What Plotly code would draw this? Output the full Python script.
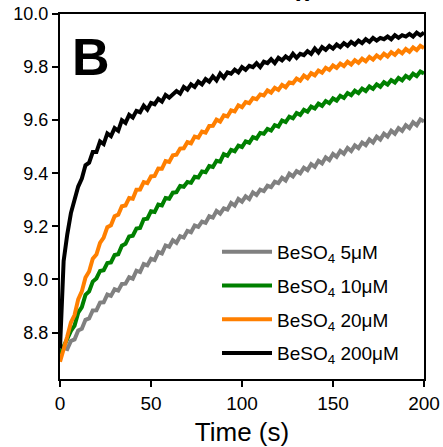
import plotly.graph_objects as go

time_s = list(range(0, 201, 2))

beso4_200uM = [
    8.74, 9.07, 9.17, 9.25, 9.30, 9.35, 9.38, 9.43, 9.44, 9.48,
    9.48, 9.52, 9.51, 9.55, 9.54, 9.57, 9.56, 9.60, 9.59, 9.62,
    9.61, 9.635, 9.63, 9.655, 9.64, 9.665, 9.66, 9.68, 9.67, 9.695,
    9.685, 9.70, 9.71, 9.70, 9.725, 9.715, 9.735, 9.725, 9.745, 9.735,
    9.755, 9.745, 9.765, 9.75, 9.775, 9.76, 9.78, 9.775, 9.79, 9.78,
    9.80, 9.79, 9.805, 9.80, 9.815, 9.80, 9.82, 9.815, 9.83, 9.815,
    9.835, 9.825, 9.84, 9.83, 9.85, 9.835, 9.85, 9.845, 9.86, 9.85,
    9.87, 9.855, 9.875, 9.865, 9.88, 9.87, 9.885, 9.875, 9.89, 9.88,
    9.895, 9.885, 9.90, 9.89, 9.905, 9.895, 9.91, 9.90, 9.91, 9.905,
    9.915, 9.905, 9.92, 9.91, 9.92, 9.915, 9.925, 9.915, 9.93, 9.92,
    9.93,
]

beso4_20uM = [
    8.69, 8.745, 8.785, 8.838, 8.866, 8.925, 8.955, 9.007, 9.03, 9.078,
    9.094, 9.138, 9.158, 9.197, 9.204, 9.238, 9.244, 9.276, 9.279, 9.307,
    9.304, 9.338, 9.339, 9.367, 9.363, 9.388, 9.39, 9.418, 9.417, 9.446,
    9.443, 9.468, 9.47, 9.493, 9.494, 9.517, 9.513, 9.538, 9.534, 9.557,
    9.553, 9.578, 9.579, 9.602, 9.595, 9.618, 9.614, 9.637, 9.633, 9.656,
    9.649, 9.668, 9.664, 9.683, 9.679, 9.697, 9.693, 9.712, 9.704, 9.722,
    9.714, 9.733, 9.724, 9.742, 9.739, 9.757, 9.749, 9.768, 9.758, 9.777,
    9.769, 9.787, 9.779, 9.797, 9.789, 9.806, 9.797, 9.813, 9.804, 9.82,
    9.81, 9.826, 9.816, 9.832, 9.822, 9.838, 9.828, 9.844, 9.834, 9.85,
    9.84, 9.856, 9.846, 9.862, 9.852, 9.868, 9.858, 9.874, 9.864, 9.88,
    9.872,
]

beso4_10uM = [
    8.72, 8.752, 8.776, 8.806, 8.826, 8.875, 8.896, 8.942, 8.955, 8.992,
    9.004, 9.032, 9.035, 9.062, 9.064, 9.092, 9.095, 9.127, 9.134, 9.162,
    9.165, 9.192, 9.194, 9.227, 9.229, 9.257, 9.254, 9.282, 9.279, 9.307,
    9.304, 9.327, 9.329, 9.352, 9.349, 9.367, 9.364, 9.387, 9.384, 9.407,
    9.404, 9.427, 9.424, 9.447, 9.444, 9.472, 9.466, 9.488, 9.483, 9.504,
    9.499, 9.52, 9.515, 9.536, 9.531, 9.552, 9.549, 9.567, 9.561, 9.581,
    9.576, 9.599, 9.593, 9.613, 9.607, 9.627, 9.62, 9.639, 9.632, 9.651,
    9.644, 9.662, 9.654, 9.672, 9.664, 9.682, 9.674, 9.692, 9.684, 9.702,
    9.694, 9.711, 9.702, 9.719, 9.71, 9.727, 9.718, 9.735, 9.726, 9.743,
    9.734, 9.751, 9.742, 9.759, 9.75, 9.767, 9.758, 9.775, 9.766, 9.783,
    9.776,
]

beso4_5uM = [
    8.72, 8.742, 8.738, 8.768, 8.774, 8.808, 8.814, 8.848, 8.853, 8.883,
    8.884, 8.913, 8.914, 8.943, 8.938, 8.963, 8.958, 8.983, 8.984, 9.008,
    9.003, 9.033, 9.028, 9.058, 9.053, 9.078, 9.073, 9.103, 9.098, 9.128,
    9.123, 9.148, 9.138, 9.163, 9.158, 9.183, 9.178, 9.203, 9.198, 9.218,
    9.213, 9.238, 9.233, 9.258, 9.248, 9.268, 9.263, 9.288, 9.278, 9.303,
    9.293, 9.313, 9.303, 9.328, 9.318, 9.338, 9.333, 9.353, 9.348, 9.368,
    9.363, 9.383, 9.373, 9.398, 9.388, 9.408, 9.40, 9.421, 9.412, 9.434,
    9.424, 9.447, 9.437, 9.46, 9.45, 9.473, 9.462, 9.484, 9.473, 9.495,
    9.484, 9.505, 9.495, 9.516, 9.506, 9.527, 9.516, 9.538, 9.527, 9.549,
    9.538, 9.56, 9.549, 9.57, 9.56, 9.581, 9.57, 9.592, 9.581, 9.603,
    9.595,
]

series_names = ["BeSO<sub>4</sub> 5\u03bcM", "BeSO<sub>4</sub> 10\u03bcM",
                "BeSO<sub>4</sub> 20\u03bcM", "BeSO<sub>4</sub> 200\u03bcM"]
series_values = [beso4_5uM, beso4_10uM, beso4_20uM, beso4_200uM]
series_colors = ["#808080", "#008000", "#ff7f00", "#000000"]

x_ticks = [0, 50, 100, 150, 200]
y_ticks = [8.8, 9.0, 9.2, 9.4, 9.6, 9.8, 10.0]

FONT = "Arial, Liberation Sans, sans-serif"

fig = go.Figure()
for i, (name, vals, col) in enumerate(zip(series_names, series_values, series_colors)):
    fig.add_trace(go.Scatter(
        x=time_s, y=vals, mode="lines", name=name,
        legendgroup=f"g{i}",
        line=dict(color=col, width=4),
    ))

axis_common = dict(
    showline=True, linecolor="black", linewidth=2, mirror=True,
    ticks="outside", ticklen=6, tickwidth=1.5, tickcolor="black",
    showgrid=False, zeroline=False, automargin=False,
)

fig.update_xaxes(range=[0, 200], tickvals=x_ticks,
                 tickfont=dict(family=FONT, size=19, color="black"),
                 title=dict(text="Time (s)", font=dict(family=FONT, size=26, color="black"),
                            standoff=10),
                 **axis_common)
fig.update_yaxes(range=[8.625, 10.0], tickvals=y_ticks, tickformat=".1f",
                 tickfont=dict(family=FONT, size=18, color="black"),
                 **axis_common)

fig.add_annotation(text="<b>B</b>", xref="paper", yref="paper",
                   x=(91 - 60) / 364, y=1 - (57 - 14) / 365,
                   xanchor="center", yanchor="middle", showarrow=False,
                   font=dict(family=FONT, size=52, color="black"))

fig.add_annotation(text="<b>x</b>", xref="paper", yref="paper",
                   x=(303 - 60) / 364, y=1.0,
                   xanchor="center", yanchor="bottom", yshift=6, showarrow=False,
                   font=dict(family=FONT, size=24, color="black"))

fig.update_layout(
    width=443, height=447,
    margin=dict(l=60, r=19, t=14, b=68, autoexpand=False),
    paper_bgcolor="white", plot_bgcolor="white",
    showlegend=True,
    legend=dict(x=(217 - 60) / 364, y=1 - (233 - 14) / 365, xanchor="left", yanchor="top",
                bgcolor="rgba(0,0,0,0)", borderwidth=0,
                font=dict(family=FONT, size=19, color="black"),
                itemwidth=50,
                tracegroupgap=6, traceorder="grouped"),
)

fig.write_html("out.html")
